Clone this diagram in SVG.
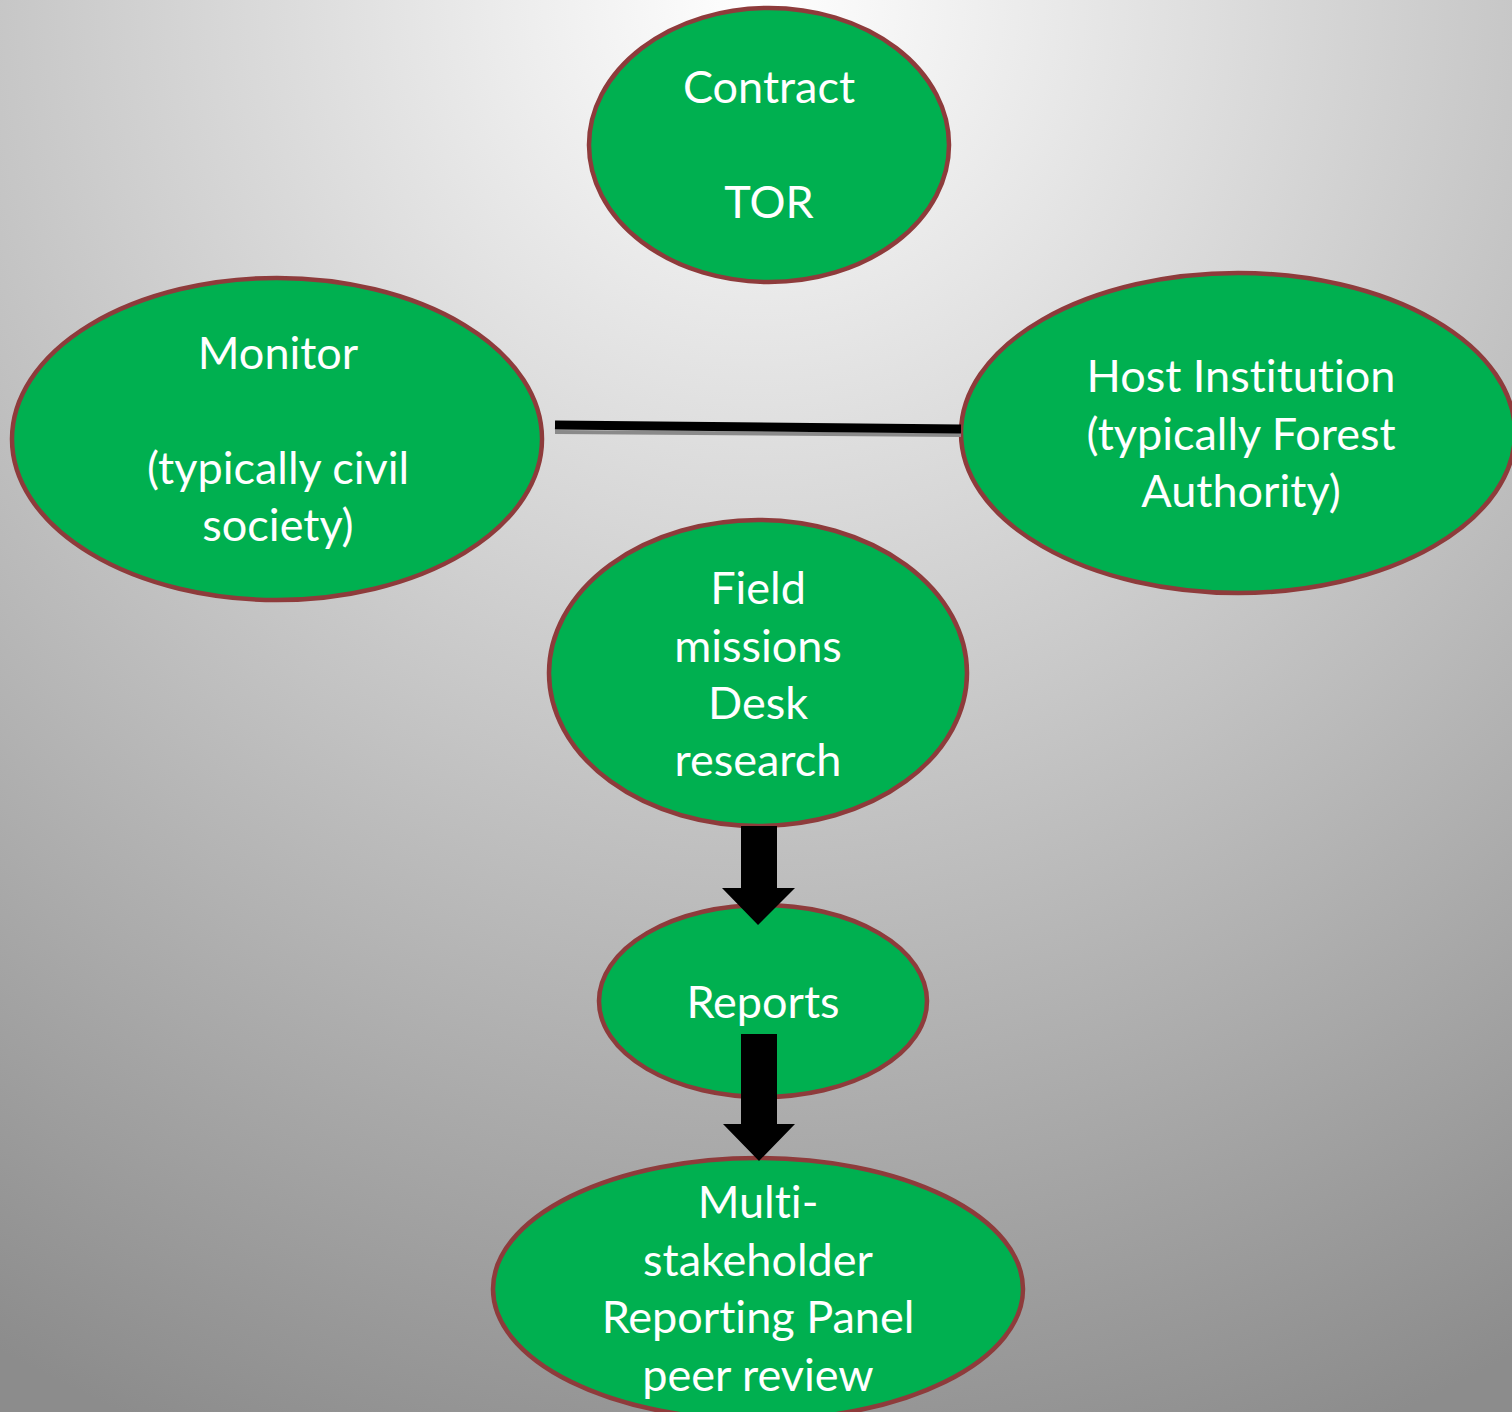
<svg xmlns="http://www.w3.org/2000/svg" width="1512" height="1412" viewBox="0 0 1512 1412">
<defs>
<radialGradient id="bg" gradientUnits="userSpaceOnUse" cx="760" cy="0" r="1550">
<stop offset="0" stop-color="#ffffff"/>
<stop offset="1" stop-color="#8c8c8c"/>
</radialGradient>
</defs>
<style>
.n{fill:#00B050;stroke:#8E3B3B;stroke-width:4.5}
.t{font-family:Lato,"Open Sans","Liberation Sans",sans-serif;font-size:45px;fill:#ffffff;text-anchor:middle;font-variant-ligatures:none;font-feature-settings:"liga" 0,"clig" 0}
</style>
<rect width="1512" height="1412" fill="url(#bg)"/>
<g id="n-contract">
<ellipse class="n" cx="769" cy="145" rx="180" ry="137"/>
<text class="t" x="769" y="103">Contract</text>
<text class="t" x="769" y="218">TOR</text>
</g>
<g id="n-monitor">
<ellipse class="n" cx="277" cy="439" rx="265" ry="161"/>
<text class="t" x="278" y="369">Monitor</text>
<text class="t" x="278" y="484">(typically civil</text>
<text class="t" x="278" y="541">society)</text>
</g>
<g id="n-host">
<ellipse class="n" cx="1238" cy="433" rx="277" ry="160"/>
<text class="t" x="1241" y="392">Host Institution</text>
<text class="t" x="1241" y="450">(typically Forest</text>
<text class="t" x="1241" y="507">Authority)</text>
</g>
<g id="n-field">
<ellipse class="n" cx="758" cy="673" rx="209" ry="153"/>
<text class="t" x="758" y="604">Field</text>
<text class="t" x="758" y="662">missions</text>
<text class="t" x="758" y="719">Desk</text>
<text class="t" x="758" y="776">research</text>
</g>
<g id="n-reports">
<ellipse class="n" cx="763" cy="1001" rx="164" ry="96"/>
<text class="t" x="763" y="1018">Reports</text>
</g>
<g id="n-panel">
<ellipse class="n" cx="758" cy="1289" rx="265" ry="131"/>
<text class="t" x="758" y="1218">Multi-</text>
<text class="t" x="758" y="1276">stakeholder</text>
<text class="t" x="758" y="1333">Reporting Panel</text>
<text class="t" x="758" y="1391">peer review</text>
</g>
<g id="connectors">
<line x1="555" y1="432" x2="961" y2="435" stroke="#8a8a8a" stroke-width="4"/>
<line x1="555" y1="425" x2="961" y2="429" stroke="#000" stroke-width="9"/>
<polygon points="741,826 777,826 777,888 795,888 758,925 722,888 741,888" fill="#000"/>
<polygon points="741,1034 777,1034 777,1124 795,1124 759,1161 723,1124 741,1124" fill="#000"/>
</g>
</svg>
